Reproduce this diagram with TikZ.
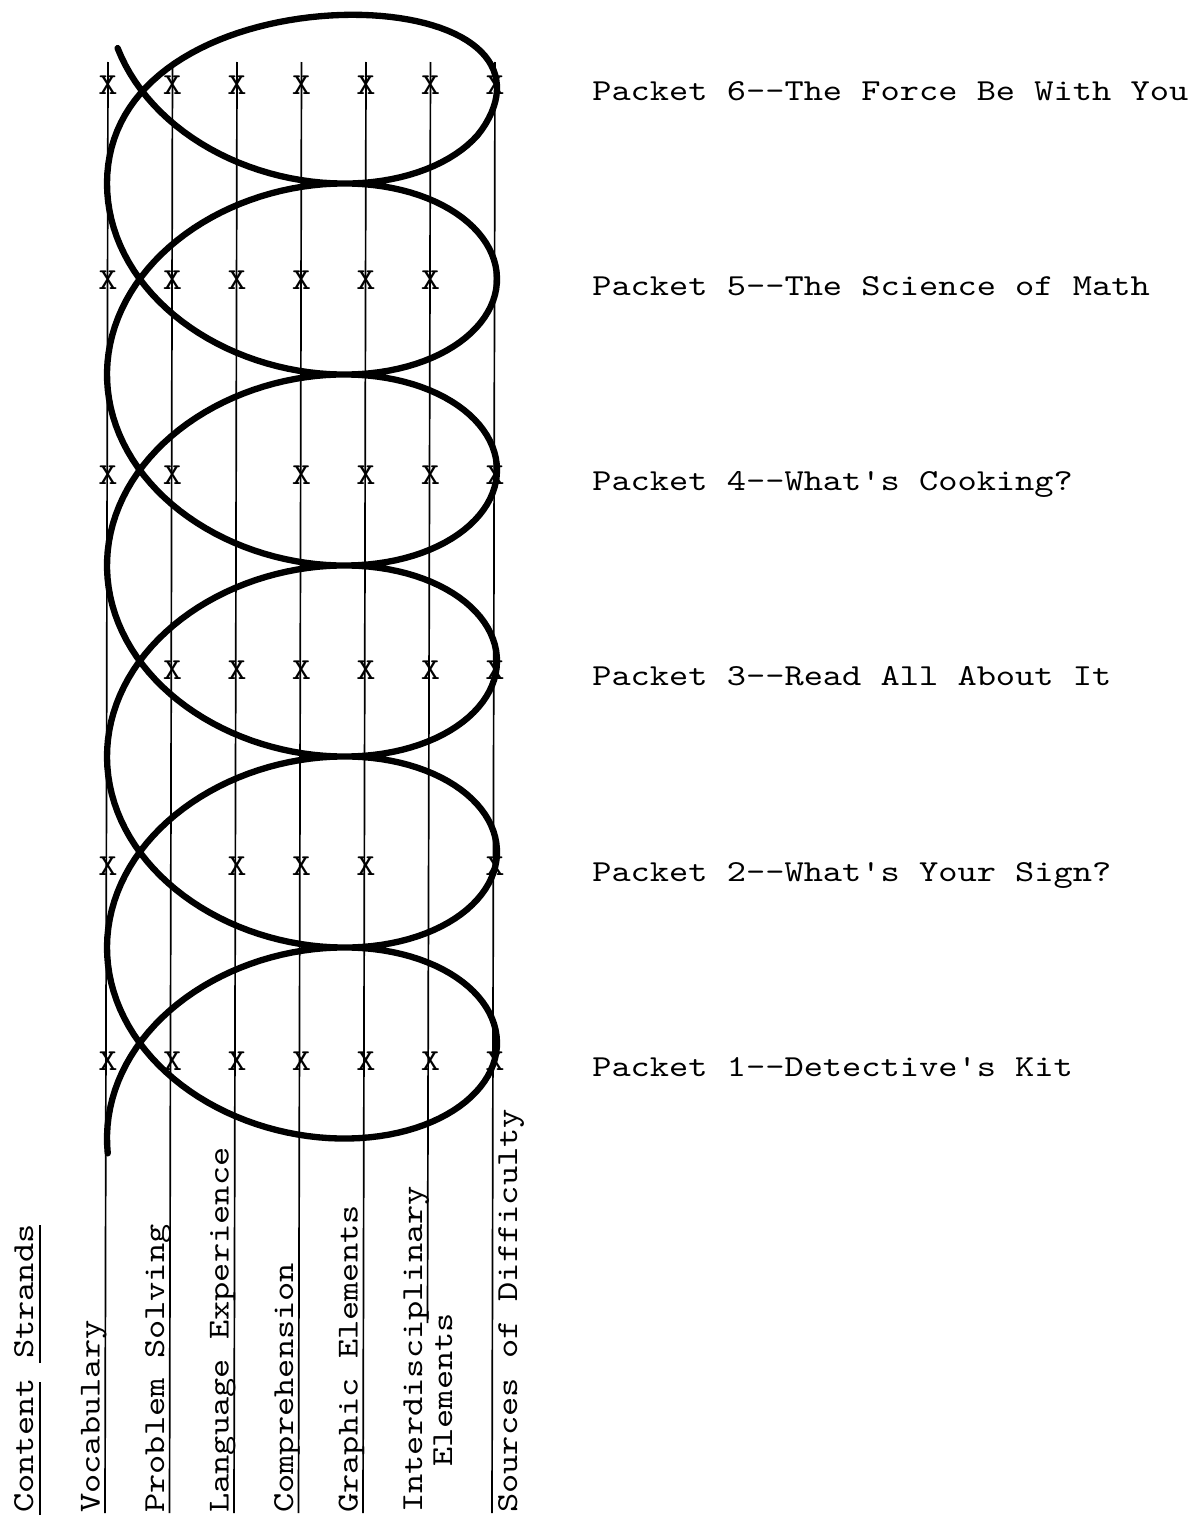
\documentclass[tikz,border=0pt]{standalone}
\usepackage{fontspec}
\setmonofont[Extension=.otf, FakeStretch=1.2]{lmmono10-regular}
\usetikzlibrary{calc}

\newcommand{\typed}{\ttfamily\fontsize{21.7}{27}\selectfont}

\tikzset{
    strandline/.style={line width=1.2pt},
    helix/.style={line width=4.5pt, line cap=round, line join=round},
    typed/.style={font=\typed, inner sep=0pt},
    uline/.style={line width=1.3pt}
}

\begin{document}
\begin{tikzpicture}[x=0.025cm, y=-0.025cm]
    \useasboundingbox (0,0) rectangle (1196,1519);

    % Strand lines (Interdisciplinary stops above its second line)
    \foreach \xc/\yb in {108/1513, 172.5/1513, 237/1513, 301.5/1513, 366/1513, 430.5/1323, 495/1513} {
        \draw[strandline] (\xc,62) -- (\xc-3,\yb);
    }

    % The spiral
    \draw[helix] plot[domain=-161:1985, samples=700, variable=\t]
        ({302+195*cos(\t)}, {88+191/360*\t-(140-23*max(0,1-((\t-75)/100)*((\t-75)/100)))*sin(\t)});

    % Marks: packet / strands it covers
    \foreach \p/\cols in {6/{1,2,3,4,5,6,7}, 5/{1,2,3,4,5,6}, 4/{1,2,4,5,6,7},
                          3/{2,3,4,5,6,7}, 2/{1,3,4,5,7}, 1/{1,2,3,4,5,6,7}} {
        \foreach \c in \cols {
            \node[typed, anchor=base] (x\p\c) at ({108+64.5*(\c-1)}, {94+195.3*(6-\p)}) {X};
        }
    }

    % Packet titles
    \node[typed, anchor=base west] (p6) at (592,100) {Packet 6--The Force Be With You};
    \node[typed, anchor=base west] (p5) at (592,295.3) {Packet 5--The Science of Math};
    \node[typed, anchor=base west] (p4) at (592,490.6) {Packet 4--What's Cooking?};
    \node[typed, anchor=base west] (p3) at (592,685.9) {Packet 3--Read All About It};
    \node[typed, anchor=base west] (p2) at (592,881.2) {Packet 2--What's Your Sign?};
    \node[typed, anchor=base west] (p1) at (592,1076.5) {Packet 1--Detective's Kit};

    % Strand names
    \node[typed, rotate=90, anchor=base west] (strands) at (33,1513) {Content Strands};
    \draw[uline] (40,1515) -- (40,1382);
    \draw[uline] (40,1363) -- (40,1225);
    \node[typed, rotate=90, anchor=base west] (vocab) at (99.5,1513) {Vocabulary};
    \node[typed, rotate=90, anchor=base west] (solve) at (164,1513) {Problem Solving};
    \node[typed, rotate=90, anchor=base west] (lang) at (228.5,1513) {Language Experience};
    \node[typed, rotate=90, anchor=base west] (comp) at (293,1513) {Comprehension};
    \node[typed, rotate=90, anchor=base west] (graph) at (357.5,1513) {Graphic Elements};
    \node[typed, rotate=90, anchor=base west] (inter) at (422,1513) {Interdisciplinary};
    \node[typed, rotate=90, anchor=base west] (interb) at (452,1467) {Elements};
    \node[typed, rotate=90, anchor=base west] (diff) at (517,1513) {Sources of Difficulty};
\end{tikzpicture}
\end{document}
